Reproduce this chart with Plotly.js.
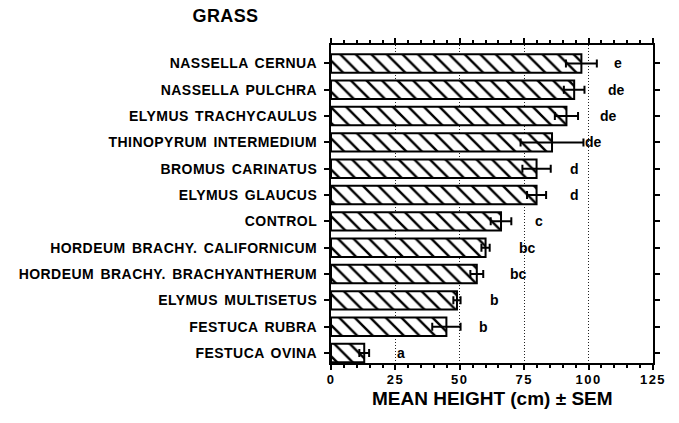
<!DOCTYPE html>
<html>
<head>
<meta charset="utf-8">
<script src="https://cdn.plot.ly/plotly-3.0.1.min.js"></script>
<style>
html, body { margin: 0; padding: 0; background: #ffffff; }
#chart { width: 679px; height: 423px; }
.ytick text { letter-spacing: 0.45px; word-spacing: 2px; }
.xtick text { letter-spacing: 1.5px; }
.gtitle { letter-spacing: 0.4px; }
</style>
</head>
<body>
<div id="chart"></div>
<script>
// ---- data ----
const species = [
  'NASSELLA CERNUA',
  'NASSELLA PULCHRA',
  'ELYMUS TRACHYCAULUS',
  'THINOPYRUM INTERMEDIUM',
  'BROMUS CARINATUS',
  'ELYMUS GLAUCUS',
  'CONTROL',
  'HORDEUM BRACHY. CALIFORNICUM',
  'HORDEUM BRACHY. BRACHYANTHERUM',
  'ELYMUS MULTISETUS',
  'FESTUCA RUBRA',
  'FESTUCA OVINA'
];
const meanHeight = [97.2, 94.4, 91.4, 85.8, 79.8, 79.8, 66.0, 60.0, 56.6, 48.9, 44.8, 12.9];
const semHeight  = [6.0, 4.0, 4.5, 12.2, 5.5, 3.7, 4.0, 1.6, 2.5, 1.4, 5.5, 1.9];
const groupLetters = ['e', 'de', 'de', 'de', 'd', 'd', 'c', 'bc', 'bc', 'b', 'b', 'a'];
const letterX = [111.6, 110.7, 107.6, 101.9, 94.6, 94.6, 80.6, 76.4, 72.9, 63.5, 59.3, 27.3];
const xTicks = [0, 25, 50, 75, 100, 125];
const xTitle = 'MEAN HEIGHT (cm) ± SEM';

// ---- drawing ----
const FONT = 'Liberation Sans, Arial, Helvetica, sans-serif';

const trace = {
  type: 'bar',
  orientation: 'h',
  y: species,
  x: meanHeight,
  width: 0.7,
  marker: {
    color: 'white',
    line: { color: 'black', width: 2 },
    pattern: { shape: '\\', size: 11, solidity: 0.22, fgcolor: 'black', bgcolor: 'white' }
  },
  error_x: { type: 'data', array: semHeight, visible: true, color: 'black', thickness: 2, width: 4 },
  hoverinfo: 'none'
};

const annotations = species.map((s, i) => ({
  x: letterX[i], y: s, xref: 'x', yref: 'y',
  text: groupLetters[i], showarrow: false,
  xanchor: 'center', yanchor: 'middle',
  font: { family: FONT, size: 14, color: 'black', weight: 'bold' }
}));
annotations.push({
  x: 0.5, y: -35 / 318, xref: 'paper', yref: 'paper',
  xanchor: 'center', yanchor: 'middle', showarrow: false,
  text: xTitle,
  font: { family: FONT, size: 19, color: 'black', weight: 'bold' }
});

const layout = {
  width: 679, height: 423,
  margin: { l: 331, r: 26, t: 45, b: 60, pad: 0 },
  paper_bgcolor: 'white', plot_bgcolor: 'white',
  showlegend: false,
  title: {
    text: 'GRASS',
    xref: 'container', yref: 'container',
    x: 225.5 / 679, y: 1 - 16 / 423,
    xanchor: 'center', yanchor: 'middle',
    font: { family: FONT, size: 18, color: 'black', weight: 'bold' }
  },
  xaxis: {
    range: [0, 125],
    tickvals: xTicks,
    ticktext: xTicks.map(String),
    ticks: 'outside', ticklen: 5, tickwidth: 2, tickcolor: 'black',
    showline: true, linewidth: 2, linecolor: 'black', mirror: 'ticks',
    showgrid: true, gridcolor: '#222', gridwidth: 1, griddash: '1px,2px',
    zeroline: false,
    minor: { dtick: 5, tick0: 0, ticks: 'outside', ticklen: 3, tickwidth: 2, tickcolor: 'black', showgrid: false },
    ticklabelstandoff: -2,
    tickfont: { family: FONT, size: 13, color: 'black', weight: 'bold' },
    fixedrange: true
  },
  yaxis: {
    type: 'category',
    categoryorder: 'array', categoryarray: species,
    range: [11.38, -0.70],
    ticks: 'outside', ticklen: 5, tickwidth: 2, tickcolor: 'black',
    showline: true, linewidth: 2, linecolor: 'black', mirror: 'ticks',
    showgrid: false, zeroline: false,
    ticklabelstandoff: 4,
    tickfont: { family: FONT, size: 14, color: 'black', weight: 'bold' },
    fixedrange: true
  },
  annotations: annotations
};

Plotly.newPlot('chart', [trace], layout, { displayModeBar: false, staticPlot: true });
</script>
</body>
</html>
